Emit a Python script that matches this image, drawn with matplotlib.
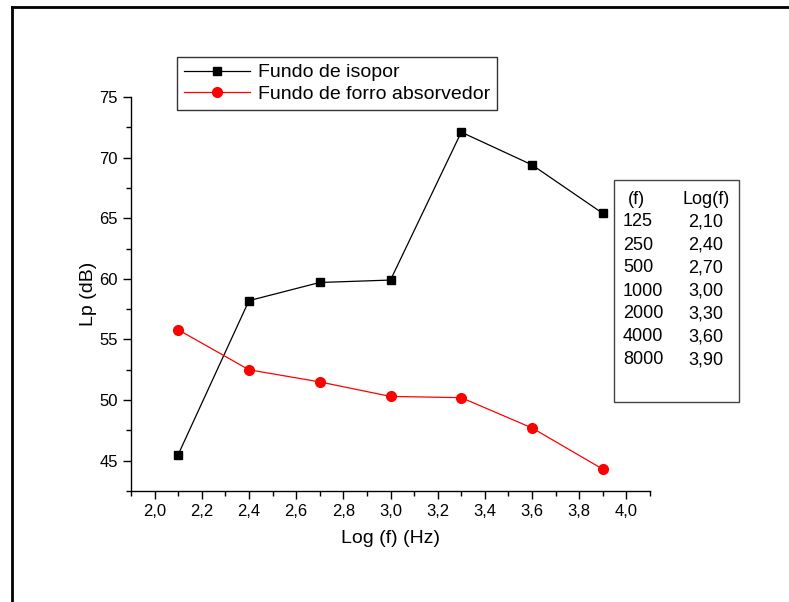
import matplotlib.pyplot as plt
from matplotlib.lines import Line2D
from matplotlib.ticker import MultipleLocator, FuncFormatter

log_f = [2.1, 2.4, 2.7, 3.0, 3.3, 3.6, 3.9]
isopor = [45.5, 58.2, 59.7, 59.9, 72.1, 69.4, 65.4]
forro = [55.8, 52.5, 51.5, 50.3, 50.2, 47.7, 44.3]
freqs = ["125", "250", "500", "1000", "2000", "4000", "8000"]
log_labels = ["2,10", "2,40", "2,70", "3,00", "3,30", "3,60", "3,90"]

plt.rcParams['font.family'] = ['Liberation Sans', 'DejaVu Sans']

fig = plt.figure(figsize=(7.89, 6.02), dpi=100)
ax = fig.add_axes([131 / 789, 1 - 491 / 602, (650 - 131) / 789, (491 - 97) / 602])

ax.plot(log_f, isopor, color='black', lw=0.9, marker='s', ms=6, label='Fundo de isopor')
ax.plot(log_f, forro, color='red', lw=0.9, marker='o', ms=7, label='Fundo de forro absorvedor')

ax.set_xlim(1.9, 4.1)
ax.set_ylim(42.5, 75)
ax.xaxis.set_major_locator(MultipleLocator(0.2))
ax.xaxis.set_minor_locator(MultipleLocator(0.1))
ax.yaxis.set_major_locator(MultipleLocator(5))
ax.yaxis.set_minor_locator(MultipleLocator(2.5))
ax.xaxis.set_major_formatter(FuncFormatter(lambda v, p: f"{v:.1f}".replace('.', ',')))
ax.yaxis.set_major_formatter(FuncFormatter(lambda v, p: f"{v:.0f}"))
ax.spines['top'].set_visible(False)
ax.spines['right'].set_visible(False)
for s in ['left', 'bottom']:
    ax.spines[s].set_linewidth(1.0)
ax.tick_params(which='major', direction='out', length=6, width=1, labelsize=12)
ax.tick_params(which='minor', direction='out', length=3.5, width=1)
ax.set_xlabel('Log (f) (Hz)', fontsize=14, labelpad=8)
ax.set_ylabel('Lp (dB)', fontsize=14, labelpad=2)

leg = ax.legend(loc='upper left', bbox_to_anchor=((177 - 131) / 519, (491 - 57) / 394),
                borderaxespad=0, fontsize=14, frameon=True, fancybox=False, edgecolor='black',
                handlelength=3.4, borderpad=0.35, labelspacing=0.2, handletextpad=0.4)
leg.get_frame().set_linewidth(1.0)

# caixa com a tabela de frequencias
bx0, by0, bx1, by1 = 614, 180, 739, 402
fig.patches.append(plt.Rectangle((bx0 / 789, 1 - by1 / 602), (bx1 - bx0) / 789, (by1 - by0) / 602,
                                 transform=fig.transFigure, fill=False, edgecolor='#444444', lw=1.0))
fig.text(628 / 789, 1 - 199 / 602, "(f)", fontsize=13, va='center')
fig.text(683 / 789, 1 - 199 / 602, "Log(f)", fontsize=13, va='center')
for i in range(len(freqs)):
    yy = 1 - (222 + i * 23) / 602
    fig.text(623 / 789, yy, freqs[i], fontsize=13, va='center')
    fig.text(688 / 789, yy, log_labels[i], fontsize=13, va='center')

# moldura externa
fig.lines.append(Line2D([12 / 789, 12 / 789], [0, 1 - 6.5 / 602], transform=fig.transFigure, color='black', lw=2))
fig.lines.append(Line2D([12 / 789, 1], [1 - 6.5 / 602, 1 - 6.5 / 602], transform=fig.transFigure, color='black', lw=2))

fig.savefig('out.png', dpi=100)
